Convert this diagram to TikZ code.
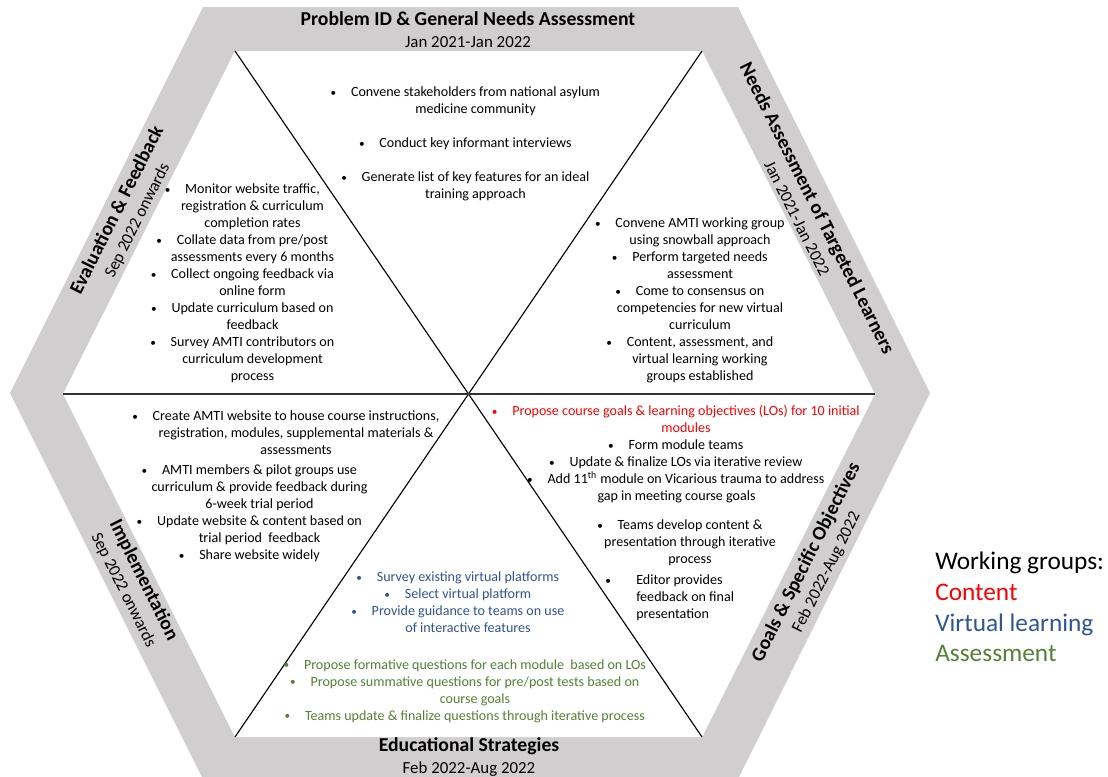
\documentclass[tikz,border=0pt]{standalone}
\usepackage{fontspec}
\setmainfont{Carlito}
\usepackage{tikz}
\usetikzlibrary{positioning}

\definecolor{bandgray}{RGB}{208,206,206}
\definecolor{contentred}{RGB}{255,0,0}
\definecolor{virtualblue}{RGB}{47,85,151}
\definecolor{assessgreen}{RGB}{84,130,53}

\newcommand{\dotmark}{\raisebox{0.4pt}{\fontsize{8}{8}\selectfont\textbullet}}
\newcommand{\blt}{\llap{\dotmark\hspace{1.05em}}}
\newcommand{\stagetitle}[1]{{\bfseries\fontsize{14}{15.5}\selectfont #1}}

\begin{document}
\begin{tikzpicture}[
    x=0.025cm, y=-0.025cm,
    spoke/.style={black, line width=0.8pt},
    divider/.style={black!80, line width=1.8pt},
    stage/.style={align=center, font=\fontsize{12}{15.5}\selectfont, inner sep=0pt},
    items/.style={align=center, font=\fontsize{10}{12.1}\selectfont, inner sep=0pt},
    legend/.style={align=left, anchor=west, font=\fontsize{18}{21.8}\selectfont, inner sep=0pt}
]
\useasboundingbox (0,0) rectangle (1108,776);

% Outer band
\fill[bandgray] (203,7) -- (738,7) -- (930,393) -- (738,779) -- (203,779) -- (10,393) -- cycle;

% Inner face
\coordinate (tl) at (235,51);
\coordinate (tr) at (702,51);
\coordinate (r) at (875,394);
\coordinate (br) at (702,737);
\coordinate (bl) at (235,737);
\coordinate (l) at (63,394);
\coordinate (c) at (468.5,394);
\fill[white] (tl) -- (tr) -- (r) -- (br) -- (bl) -- (l) -- cycle;

% Spokes
\draw[spoke] (c) -- (tl);
\draw[spoke] (c) -- (tr);
\draw[spoke] (c) -- (br);
\draw[spoke] (c) -- (bl);
\draw[divider] (l) -- (r);

% Stage labels
\node[stage] (problem) at (468,30) {\stagetitle{Problem ID \& General Needs Assessment}\\Jan 2021-Jan 2022};
\node[stage, rotate=-63.4] (needs) at (808,213) {\stagetitle{Needs Assessment of Targeted Learners}\\Jan 2021-Jan 2022};
\node[stage, rotate=63.4] (goals) at (816,567) {\stagetitle{Goals \& Specific Objectives}\\Feb 2022-Aug 2022};
\node[stage] (strategies) at (469,757) {\stagetitle{Educational Strategies}\\Feb 2022-Aug 2022};
\node[stage, rotate=-63.4] (impl) at (134,585) {\stagetitle{Implementation}\\Sep 2022 onwards};
\node[stage, rotate=63.4] (evaluation) at (127,215) {\stagetitle{Evaluation \& Feedback}\\Sep 2022 onwards};

% Problem ID
\node[items] (problemlist) at (475.5,144) {\blt Convene stakeholders from national asylum\\ medicine community\\[12pt]
    \blt Conduct key informant interviews\\[12pt]
    \blt Generate list of key features for an ideal\\ training approach};

% Needs assessment
\node[items] (needslist) at (700,300.5) {\blt Convene AMTI working group\\ using snowball approach\\
    \blt Perform targeted needs\\ assessment\\
    \blt Come to consensus on\\ competencies for new virtual\\ curriculum\\
    \blt Content, assessment, and\\ virtual learning working\\ groups established};

% Goals
\node[items] (goalslist) at (686,454.5) {\textcolor{contentred}{\blt Propose course goals \& learning objectives (LOs) for 10 initial}\\
    \textcolor{contentred}{modules}\\
    \blt Form module teams\\
    \blt Update \& finalize LOs via iterative review\\
    \blt Add 11\textsuperscript{th} module on Vicarious trauma to address\\ gap in meeting course goals\hspace*{0.475cm}};
\node[items] (teamslist) at (690,543) {\blt Teams develop content \&\\ presentation through iterative\\ process};
\node[items, align=left, anchor=west] (editor) at (636,598) {\llap{\dotmark\hspace{1.8em}}Editor provides\\ feedback on final\\ presentation};

% Educational strategies
\node[items, text=virtualblue] (virtuallist) at (468,602.5) {\blt Survey existing virtual platforms\\
    \blt Select virtual platform\\
    \blt Provide guidance to teams on use\\ of interactive features};
\node[items, text=assessgreen] (assesslist) at (475,691) {\blt Propose formative questions for each module~ based on LOs\\
    \blt Propose summative questions for pre/post tests based on\\ course goals\\
    \blt Teams update \& finalize questions through iterative process};

% Implementation
\node[items] (websitelist) at (296,433) {\blt Create AMTI website to house course instructions,\\ registration, modules, supplemental materials \&\\ assessments};
\node[items] (pilotlist) at (259.5,513.5) {\blt AMTI members \& pilot groups use\\ curriculum \& provide feedback during\\ 6-week trial period\\
    \blt Update website \& content based on\\ trial period~ feedback\\
    \blt Share website widely};

% Evaluation
\node[items] (evallist) at (252.5,283.5) {\blt Monitor website traffic,\\ registration \& curriculum\\ completion rates\\
    \blt Collate data from pre/post\\ assessments every 6 months\\
    \blt Collect ongoing feedback via\\ online form\\
    \blt Update curriculum based on\\ feedback\\
    \blt Survey AMTI contributors on\\ curriculum development\\ process};

% Legend
\node[legend] (groups) at (935,607) {Working groups:\\
    \textcolor{contentred}{Content}\\
    \textcolor{virtualblue}{Virtual learning}\\
    \textcolor{assessgreen}{Assessment}};

\end{tikzpicture}
\end{document}
